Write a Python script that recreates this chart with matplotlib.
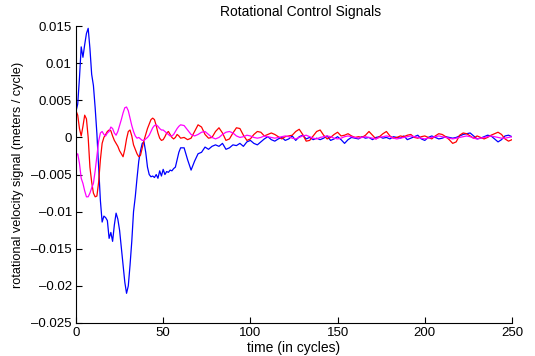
import matplotlib
matplotlib.use("Agg")
import matplotlib.pyplot as plt
from matplotlib.ticker import FuncFormatter

plt.rcParams['font.family'] = ['Liberation Sans', 'DejaVu Sans']

# time axis: every cycle up to 60, then every 2nd cycle
t = list(range(0, 61)) + list(range(62, 251, 2))

blue_early = [0.0035, 0.0045, 0.0080, 0.0122, 0.0108, 0.0125, 0.0140, 0.0147, 0.0120, 0.0085,
              0.0070, 0.0040, 0.0005, -0.0040, -0.0085, -0.0114, -0.0106, -0.0108, -0.0112, -0.0136,
              -0.0128, -0.0140, -0.0118, -0.0102, -0.0110, -0.0125, -0.0148, -0.0170, -0.0195, -0.0210,
              -0.0200, -0.0172, -0.0140, -0.0100, -0.0080, -0.0055, -0.0032, -0.0018, -0.0008, -0.0006,
              -0.0020, -0.0040, -0.0050, -0.0053, -0.0052, -0.0054, -0.0050, -0.0055, -0.0045, -0.0052,
              -0.0043, -0.0050, -0.0046, -0.0047, -0.0044, -0.0045, -0.0042, -0.0040, -0.0030, -0.0020,
              -0.0014]
blue_late = [-0.0014, -0.0030, -0.0044, -0.0032, -0.0022, -0.0020, -0.0013, -0.0016, -0.0012, -0.0010,
             -0.0012, -0.0008, -0.0016, -0.0014, -0.0010, -0.0011, -0.0008, -0.0012, -0.0006, -0.0004,
             -0.0008, -0.0010, -0.0006, -0.0002, 0.0001, -0.0003, -0.0005, -0.0002, 0.0000, -0.0004,
             -0.0002, 0.0002, -0.0004, 0.0001, 0.0003, -0.0002, 0.0000, -0.0003, -0.0001, -0.0003,
             -0.0001, 0.0002, -0.0004, -0.0002, 0.0001, -0.0003, -0.0008, -0.0003, 0.0000, -0.0001,
             -0.0002, 0.0001, -0.0001, 0.0000, -0.0003, 0.0000, 0.0001, -0.0001, 0.0000, -0.0002,
             0.0001, 0.0000, -0.0001, 0.0002, -0.0003, -0.0001, 0.0001, 0.0003, -0.0002, -0.0004,
             0.0000, 0.0002, 0.0000, -0.0002, -0.0001, 0.0001, 0.0000, -0.0001, 0.0000, 0.0002,
             0.0004, 0.0005, 0.0006, 0.0002, -0.0002, -0.0001, 0.0001, 0.0003, 0.0002, -0.0002,
             -0.0006, -0.0003, 0.0002, 0.0003, 0.0001]

red_early = [0.0036, 0.0030, 0.0012, 0.0002, 0.0015, 0.0030, 0.0025, 0.0000, -0.0040, -0.0060,
             -0.0075, -0.0080, -0.0079, -0.0060, -0.0030, -0.0008, 0.0000, 0.0004, 0.0008, 0.0010,
             0.0009, 0.0002, -0.0004, -0.0008, -0.0012, -0.0018, -0.0022, -0.0026, -0.0016, -0.0002,
             0.0008, 0.0010, 0.0002, -0.0010, -0.0016, -0.0022, -0.0026, -0.0024, -0.0014, -0.0004,
             0.0004, 0.0012, 0.0018, 0.0024, 0.0026, 0.0024, 0.0016, 0.0006, -0.0001, -0.0004,
             -0.0003, 0.0001, 0.0006, 0.0008, 0.0004, 0.0000, -0.0002, 0.0000, 0.0004, 0.0002,
             -0.0001]
red_late = [0.0000, -0.0003, -0.0001, 0.0008, 0.0017, 0.0014, 0.0004, -0.0001, 0.0000, 0.0008,
            0.0013, 0.0006, -0.0004, -0.0002, 0.0006, 0.0013, 0.0012, 0.0003, -0.0004, -0.0002,
            0.0004, 0.0008, 0.0007, 0.0002, 0.0004, 0.0006, 0.0004, 0.0001, -0.0002, 0.0001,
            0.0002, 0.0003, 0.0008, 0.0011, 0.0004, -0.0005, -0.0004, 0.0002, 0.0008, 0.0010,
            0.0003, -0.0002, 0.0000, 0.0004, 0.0007, 0.0002, 0.0003, 0.0005, 0.0002, 0.0000,
            0.0001, 0.0000, 0.0003, 0.0008, 0.0003, -0.0002, 0.0001, 0.0005, 0.0008, 0.0002,
            -0.0001, 0.0000, 0.0002, 0.0001, 0.0003, 0.0004, 0.0000, -0.0001, 0.0001, 0.0002,
            0.0000, -0.0002, 0.0002, 0.0005, 0.0004, 0.0001, -0.0003, -0.0008, -0.0006, 0.0003,
            0.0006, 0.0005, 0.0002, -0.0001, 0.0002, 0.0000, -0.0002, 0.0000, 0.0003, 0.0005,
            0.0007, 0.0004, -0.0002, -0.0005, -0.0003]

mag_early = [-0.0025, -0.0022, -0.0035, -0.0055, -0.0062, -0.0072, -0.0080, -0.0080, -0.0075, -0.0068,
             -0.0062, -0.0045, -0.0025, -0.0005, 0.0006, 0.0008, 0.0004, 0.0002, 0.0006, 0.0008,
             0.0014, 0.0012, 0.0006, 0.0003, 0.0008, 0.0016, 0.0024, 0.0033, 0.0040, 0.0041,
             0.0036, 0.0026, 0.0016, 0.0008, 0.0002, -0.0001, 0.0000, -0.0002, -0.0004, -0.0004,
             -0.0002, 0.0000, 0.0003, 0.0008, 0.0013, 0.0016, 0.0017, 0.0015, 0.0012, 0.0010,
             0.0010, 0.0008, 0.0006, 0.0004, 0.0002, 0.0002, 0.0004, 0.0008, 0.0012, 0.0015,
             0.0017]
mag_late = [0.0016, 0.0010, 0.0004, 0.0002, 0.0004, 0.0007, 0.0008, 0.0004, 0.0000, -0.0002,
            0.0000, 0.0004, 0.0007, 0.0008, 0.0006, 0.0002, 0.0000, 0.0001, 0.0003, 0.0002,
            0.0000, -0.0001, 0.0000, 0.0002, 0.0001, 0.0000, -0.0001, 0.0000, 0.0001, 0.0002,
            0.0001, -0.0001, -0.0002, 0.0000, 0.0002, 0.0003, 0.0001, -0.0001, -0.0002, 0.0000,
            0.0001, 0.0002, 0.0001, -0.0001, -0.0002, -0.0001, 0.0001, 0.0002, 0.0001, 0.0000,
            -0.0001, 0.0000, 0.0001, 0.0000, -0.0001, -0.0002, 0.0000, 0.0001, 0.0002, 0.0001,
            -0.0001, -0.0002, -0.0001, 0.0000, 0.0001, 0.0002, 0.0001, 0.0000, -0.0001, -0.0002,
            -0.0001, 0.0000, 0.0001, 0.0002, 0.0001, 0.0000, -0.0001, -0.0002, -0.0001, 0.0000,
            0.0001, 0.0002, 0.0001, -0.0001, -0.0002, -0.0001, 0.0000, 0.0001, 0.0002, 0.0001,
            0.0000, -0.0001, -0.0001, 0.0000, 0.0001]

blue = blue_early + blue_late
red = red_early + red_late
magenta = mag_early + mag_late

fig = plt.figure(figsize=(5.35, 3.56), dpi=100)
ax = fig.add_axes([0.142, 0.0927, 0.815, 0.834])

ax.plot(t, blue, color=(0, 0, 1), lw=0.9)
ax.plot(t, red, color=(1, 0, 0), lw=0.9)
ax.plot(t, magenta, color=(1, 0, 1), lw=0.9)

ax.set_xlim(0, 250)
ax.set_ylim(-0.025, 0.015)
ax.set_xticks([0, 50, 100, 150, 200, 250])
ax.set_yticks([-0.025, -0.02, -0.015, -0.01, -0.005, 0, 0.005, 0.01, 0.015])
ax.yaxis.set_major_formatter(FuncFormatter(lambda v, p: ('%g' % round(v, 4)).replace('-', '\u2013')))

ax.spines['top'].set_visible(False)
ax.spines['right'].set_visible(False)
ax.tick_params(direction='in', length=4, width=0.8, labelsize=9.5, pad=3)

ax.set_title('Rotational Control Signals', fontsize=10, pad=7, x=0.515)
ax.set_xlabel('time (in cycles)', fontsize=10, labelpad=1)
ax.set_ylabel('rotational velocity signal (meters / cycle)', fontsize=9.2, labelpad=5)

fig.savefig('out.png', dpi=100)
